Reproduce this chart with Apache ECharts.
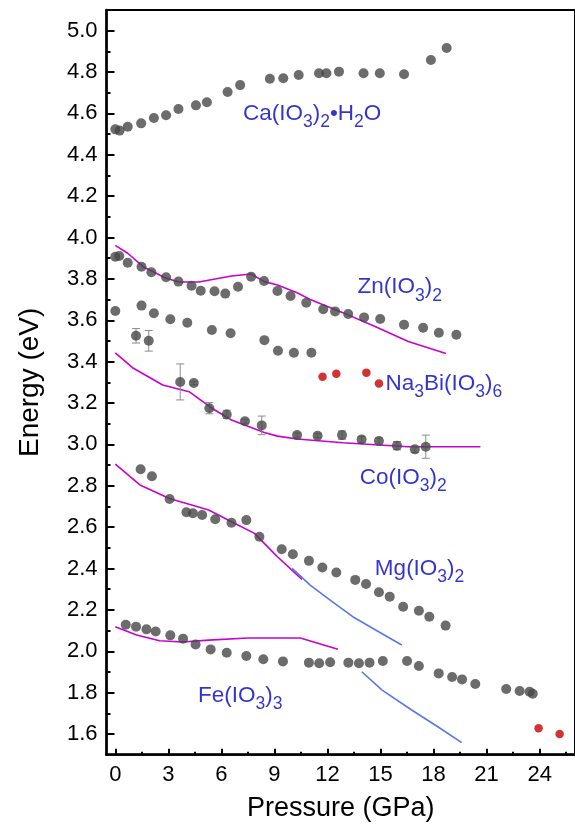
<!DOCTYPE html>
<html>
<head>
<meta charset="utf-8">
<script src="https://cdn.jsdelivr.net/npm/echarts@6/dist/echarts.min.js"></script>
<style>
  html, body { margin: 0; padding: 0; background: #fff; }
  #chart { width: 575px; height: 829px; }
</style>
</head>
<body>
<div id="chart"></div>
<script>
// Axis ticks
const pressureTicks = [0, 3, 6, 9, 12, 15, 18, 21, 24];
const pressureMinor = [1.5, 4.5, 7.5, 10.5, 13.5, 16.5, 19.5, 22.5, 25.5];
const energyTicks = [1.6, 1.8, 2.0, 2.2, 2.4, 2.6, 2.8, 3.0, 3.2, 3.4, 3.6, 3.8, 4.0, 4.2, 4.4, 4.6, 4.8, 5.0];
const energyMinor = [1.7, 1.9, 2.1, 2.3, 2.5, 2.7, 2.9, 3.1, 3.3, 3.5, 3.7, 3.9, 4.1, 4.3, 4.5, 4.7, 4.9];

// Measured band gaps [pressure GPa, energy eV]
const caData = [[0, 4.523], [0.24, 4.517], [0.7, 4.536], [1.46, 4.552], [2.18, 4.578], [2.87, 4.591],
  [3.57, 4.621], [4.56, 4.639], [5.18, 4.654], [6.35, 4.704], [7.06, 4.737], [8.74, 4.768],
  [9.5, 4.77], [10.37, 4.786], [11.52, 4.794], [11.94, 4.794], [12.65, 4.802], [14.04, 4.794],
  [14.96, 4.794], [16.33, 4.789], [17.85, 4.858], [18.74, 4.916]];

const znData = [[0, 3.907], [0.22, 3.911], [0.7, 3.878], [1.48, 3.859], [2.04, 3.832], [2.87, 3.808],
  [3.57, 3.787], [4.31, 3.767], [4.83, 3.743], [5.61, 3.74], [6.22, 3.729], [6.94, 3.762],
  [7.68, 3.811], [8.41, 3.79], [9.17, 3.742], [9.91, 3.717], [10.8, 3.685], [11.76, 3.653],
  [12.43, 3.643], [13.17, 3.63], [14.07, 3.614], [14.98, 3.606], [16.33, 3.579], [17.41, 3.564],
  [18.3, 3.54], [19.29, 3.53]];

const secondData = [[0, 3.645], [1.48, 3.671], [2.18, 3.634], [3.11, 3.605], [4.07, 3.588], [5.46, 3.553],
  [6.52, 3.537], [8.43, 3.504], [9.2, 3.453], [10.1, 3.443], [11.09, 3.443]];

// Co(IO3)2 with uncertainties [pressure, energy, error]
const coData = [[1.17, 3.525, 0.035], [1.89, 3.501, 0.05], [3.67, 3.302, 0.087], [4.44, 3.297, 0.008],
  [5.32, 3.175, 0.027], [6.3, 3.145, 0.02], [7.33, 3.112, 0.01], [8.28, 3.092, 0.045],
  [10.28, 3.045, 0.01], [11.44, 3.042, 0.01], [12.82, 3.045, 0.02], [13.93, 3.024, 0.015],
  [14.91, 3.016, 0.015], [15.93, 2.994, 0.02], [16.94, 2.976, 0.015], [17.56, 2.989, 0.056]];

const naData = [[11.72, 3.327], [12.5, 3.342], [14.2, 3.347], [14.91, 3.295]];
const redLowData = [[23.94, 1.628], [25.13, 1.6]];

const mgData = [[1.43, 2.88], [2.07, 2.846], [3.07, 2.736], [4.02, 2.672], [4.39, 2.667], [4.91, 2.659],
  [5.65, 2.638], [6.57, 2.621], [7.41, 2.634], [8.15, 2.554], [9.41, 2.493], [10.04, 2.469],
  [10.95, 2.437], [11.71, 2.405], [12.5, 2.381], [13.57, 2.345], [14.18, 2.325], [14.91, 2.285],
  [15.52, 2.264], [16.28, 2.215], [17.17, 2.196], [17.76, 2.167], [18.68, 2.124]];

const feData = [[0.59, 2.128], [1.17, 2.119], [1.76, 2.106], [2.28, 2.096], [3.11, 2.077], [3.83, 2.061],
  [4.54, 2.033], [5.39, 2.009], [6.3, 1.993], [7.41, 1.977], [8.37, 1.961], [9.48, 1.951],
  [10.95, 1.945], [11.53, 1.942], [12.15, 1.947], [13.18, 1.945], [13.78, 1.942], [14.38, 1.945],
  [15.13, 1.953], [16.5, 1.953], [17.17, 1.929], [18.29, 1.893], [19.05, 1.876], [19.61, 1.864],
  [20.36, 1.842], [22.11, 1.818], [22.87, 1.808], [23.43, 1.804], [23.61, 1.795]];

// Calculated curves
const znCalc = [[0, 3.962], [0.7, 3.924], [1.57, 3.859], [2.87, 3.803], [3.61, 3.785], [4.72, 3.785],
  [6.57, 3.814], [7.68, 3.824], [8.43, 3.787], [9.17, 3.771], [10.28, 3.733], [11.02, 3.701],
  [12.87, 3.637], [14.72, 3.569], [16.57, 3.497], [18.7, 3.44]];
const coCalc = [[0, 3.443], [1.02, 3.368], [2.68, 3.287], [4.17, 3.255], [5.46, 3.175], [6.57, 3.118],
  [8.43, 3.058], [9.17, 3.04], [10.28, 3.026], [12.87, 3.008], [16.57, 2.989], [20.65, 2.989]];
const mgCalc = [[0, 2.905], [1.39, 2.804], [3.06, 2.739], [5.28, 2.683], [6.57, 2.626], [7.87, 2.57],
  [8.98, 2.473], [9.17, 2.457], [10.28, 2.369], [10.56, 2.348]];
const mgCalcHigh = [[10.0, 2.401], [11.02, 2.32], [12.13, 2.248], [13.43, 2.167], [14.72, 2.103], [16.2, 2.03]];
const feCalc = [[0, 2.119], [1.2, 2.079], [2.5, 2.051], [3.8, 2.045], [5.28, 2.054], [7.5, 2.064],
  [10.46, 2.064], [12.59, 2.01]];
const feCalcHigh = [[13.94, 1.901], [15.09, 1.812], [16.76, 1.716], [18.24, 1.635], [19.59, 1.558]];

// Compound labels: [pressure, energy, rich text]
const compoundLabels = [
  [7.22, 4.600, '{m|Ca(IO}{s|3}{m|)}{s|2}{m|•H}{s|2}{m|O}'],
  [13.7, 3.760, '{m|Zn(IO}{s|3}{m|)}{s|2}'],
  [15.28, 3.295, '{m|Na}{s|3}{m|Bi(IO}{s|3}{m|)}{s|6}'],
  [13.83, 2.838, '{m|Co(IO}{s|3}{m|)}{s|2}'],
  [14.68, 2.397, '{m|Mg(IO}{s|3}{m|)}{s|2}'],
  [4.68, 1.787, '{m|Fe(IO}{s|3}{m|)}{s|3}']
];

const FONT = 'Liberation Sans, Arial, sans-serif';
const GRAY = '#474747';
const RED = '#c80000';
const MAGENTA = '#c800d2';
const BLUE = '#5a78e6';
const LABEL_BLUE = '#0000c4';

function dots(data, color, size) {
  return {
    type: 'scatter', data: data, symbol: 'circle', symbolSize: size,
    itemStyle: { color: color }, z: 5, silent: true
  };
}
function curve(data, color) {
  return {
    type: 'line', data: data, showSymbol: false, symbol: 'none',
    lineStyle: { color: color, width: 1.6 }, z: 3, silent: true
  };
}

const chart = echarts.init(document.getElementById('chart'), null, { renderer: 'canvas' });

const option = {
  animation: false,
  backgroundColor: '#fff',
  textStyle: { fontFamily: FONT },
  grid: {
    left: 106.5, top: 10, right: -8, bottom: 74.3,
    show: true, borderColor: '#000', borderWidth: 2, backgroundColor: 'transparent'
  },
  xAxis: [{
    type: 'value', min: -0.5, max: 26, position: 'bottom',
    axisLine: { show: true, onZero: false, lineStyle: { color: '#000', width: 2.5 } },
    axisTick: { show: true, inside: true, length: 6, customValues: pressureTicks, lineStyle: { color: '#000', width: 2 } },
    axisLabel: { customValues: pressureTicks, color: '#000', fontSize: 22, fontFamily: FONT, margin: 9 },
    splitLine: { show: false },
    name: 'Pressure (GPa)', nameLocation: 'middle', nameGap: 40,
    nameTextStyle: { fontSize: 27, color: '#000', fontFamily: FONT }
  }, {
    type: 'value', min: -0.5, max: 26, position: 'bottom',
    axisLine: { show: false, onZero: false },
    axisTick: { show: true, inside: true, length: 3, customValues: pressureMinor, lineStyle: { color: '#000', width: 2 } },
    axisLabel: { show: false },
    splitLine: { show: false }
  }],
  yAxis: [{
    type: 'value', min: 1.5, max: 5.1, position: 'left',
    axisLine: { show: true, onZero: false, lineStyle: { color: '#000', width: 2.5 } },
    axisTick: { show: true, inside: true, length: 8, customValues: energyTicks, lineStyle: { color: '#000', width: 2 } },
    axisLabel: {
      customValues: energyTicks, color: '#000', fontSize: 22, fontFamily: FONT, margin: 9,
      formatter: v => v.toFixed(1)
    },
    splitLine: { show: false },
    name: 'Energy (eV)', nameLocation: 'middle', nameGap: 62,
    nameTextStyle: { fontSize: 28, color: '#000', fontFamily: FONT }
  }, {
    type: 'value', min: 1.5, max: 5.1, position: 'left',
    axisLine: { show: false, onZero: false },
    axisTick: { show: true, inside: true, length: 4, customValues: energyMinor, lineStyle: { color: '#000', width: 2 } },
    axisLabel: { show: false },
    splitLine: { show: false }
  }],
  series: [
    curve(znCalc, MAGENTA),
    curve(coCalc, MAGENTA),
    curve(mgCalc, MAGENTA),
    curve(feCalc, MAGENTA),
    curve(mgCalcHigh, BLUE),
    curve(feCalcHigh, BLUE),
    {
      type: 'custom', data: coData, z: 4, silent: true,
      renderItem: function (params, api) {
        const x = api.value(0), y = api.value(1), e = api.value(2);
        const top = api.coord([x, y + e]);
        const bot = api.coord([x, y - e]);
        const style = { stroke: '#8c8c8c', lineWidth: 1 };
        return {
          type: 'group',
          children: [
            { type: 'line', shape: { x1: top[0], y1: top[1], x2: bot[0], y2: bot[1] }, style: style },
            { type: 'line', shape: { x1: top[0] - 4, y1: top[1], x2: top[0] + 4, y2: top[1] }, style: style },
            { type: 'line', shape: { x1: bot[0] - 4, y1: bot[1], x2: bot[0] + 4, y2: bot[1] }, style: style }
          ]
        };
      }
    },
    dots(caData, GRAY, 10),
    dots(znData, GRAY, 10),
    dots(secondData, GRAY, 10),
    dots(coData.map(d => [d[0], d[1]]), GRAY, 10),
    dots(mgData, GRAY, 10),
    dots(feData, GRAY, 10),
    dots(naData, RED, 8.5),
    dots(redLowData, RED, 8.5),
    {
      type: 'scatter', symbolSize: 0, z: 6, silent: true,
      data: compoundLabels.map(l => ({ value: [l[0], l[1]], text: l[2] })),
      label: {
        show: true, position: 'inside', align: 'left', verticalAlign: 'middle',
        formatter: p => p.data.text,
        rich: {
          m: { fontSize: 22.5, fontFamily: FONT, color: LABEL_BLUE, lineHeight: 22 },
          s: { fontSize: 17.5, fontFamily: FONT, color: LABEL_BLUE, lineHeight: 17, padding: [17, 0, 0, 0] }
        }
      }
    }
  ]
};

chart.setOption(option);
</script>
</body>
</html>
